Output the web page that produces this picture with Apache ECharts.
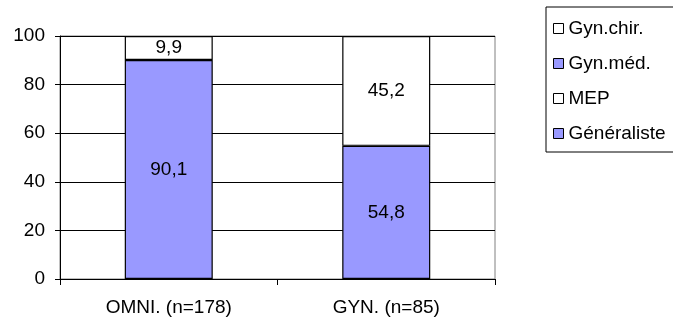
<!DOCTYPE html>
<html>
<head>
<meta charset="utf-8">
<script src="https://cdn.jsdelivr.net/npm/echarts@6/dist/echarts.min.js"></script>
<style>
  html, body { margin: 0; padding: 0; background: #fff; }
  #chart { width: 673px; height: 320px; }
</style>
</head>
<body>
<div id="chart"></div>
<script>
// Categories and stacked shares (%) per practitioner group
const categories = ['OMNI. (n=178)', 'GYN. (n=85)'];
const generaliste = [90.1, null];
const mep = [9.9, null];
const gynMed = [null, 54.8];
const gynChir = [null, 45.2];
const yTicks = [0, 20, 40, 60, 80, 100];

const legendOrder = ['Gyn.chir.', 'Gyn.méd.', 'MEP', 'Généraliste'];
const BLUE = '#9999FF';
const FONT = 'Liberation Sans, Arial, sans-serif';
const FS = 19;

function seg(name, values, color) {
  return {
    name: name,
    type: 'bar',
    stack: 'total',
    data: values.map(v => (v === null ? '-' : v)),
    barWidth: 88,
    itemStyle: { color: color, borderColor: '#000', borderWidth: 1.2 },
    label: {
      show: true,
      position: 'inside',
      color: '#000',
      fontFamily: FONT,
      fontSize: FS,
      formatter: p => String(p.value).replace('.', ',')
    },
    emphasis: { disabled: true }
  };
}

const chart = echarts.init(document.getElementById('chart'), null, { renderer: 'canvas' });
chart.setOption({
  animation: false,
  backgroundColor: '#fff',
  textStyle: { fontFamily: FONT },
  grid: {
    left: 60, right: 178, top: 36, bottom: 41,
    show: true, borderColor: '#808080', borderWidth: 1, backgroundColor: 'transparent'
  },
  legend: {
    data: legendOrder,
    orient: 'vertical',
    left: 546, top: 7,
    padding: [12, 40, 9, 7],
    itemGap: 16,
    itemWidth: 10, itemHeight: 10,
    icon: 'rect',
    borderColor: '#000', borderWidth: 1,
    textStyle: { color: '#000', fontSize: FS, fontFamily: FONT },
    itemStyle: { borderColor: '#000', borderWidth: 1 },
    selectedMode: false
  },
  xAxis: {
    type: 'category',
    data: categories,
    axisLine: { lineStyle: { color: '#000', width: 1 } },
    axisTick: { show: true, length: 6, lineStyle: { color: '#000' } },
    axisLabel: { color: '#000', fontSize: FS, margin: 19, fontFamily: FONT },
    splitLine: { show: false }
  },
  yAxis: {
    type: 'value',
    min: yTicks[0], max: yTicks[yTicks.length - 1], interval: 20,
    axisLine: { show: true, lineStyle: { color: '#000', width: 1 } },
    axisTick: { show: true, length: 5, lineStyle: { color: '#000' } },
    axisLabel: { color: '#000', fontSize: FS, margin: 15, fontFamily: FONT },
    splitLine: { show: true, lineStyle: { color: '#000', width: 1 } }
  },
  series: [
    seg('Généraliste', generaliste, BLUE),
    seg('MEP', mep, '#fff'),
    seg('Gyn.méd.', gynMed, BLUE),
    seg('Gyn.chir.', gynChir, '#fff')
  ]
});
</script>
</body>
</html>
